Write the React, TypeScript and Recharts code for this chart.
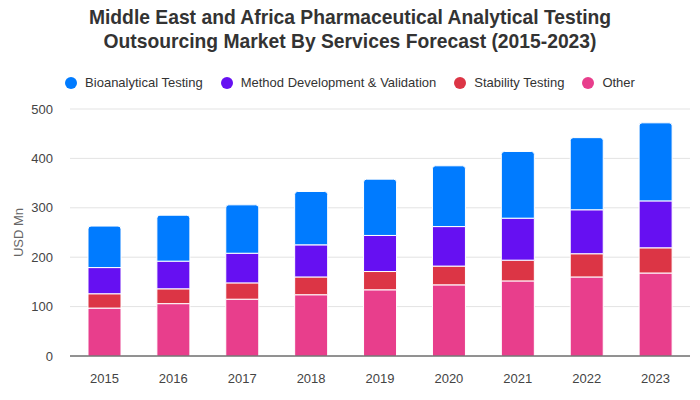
import { Bar, BarChart, CartesianGrid, Legend, XAxis, YAxis } from 'recharts';

const years = ['2015', '2016', '2017', '2018', '2019', '2020', '2021', '2022', '2023'];
const other = [97, 106, 115, 124, 134, 144, 152, 160, 168];
const stability = [29, 30, 33, 36, 37, 38, 42, 47, 51];
const methodDev = [53, 56, 60, 65, 73, 80, 85, 89, 95];
const bioanalytical = [84, 93, 98, 108, 114, 123, 135, 146, 158];
const yTicks = [0, 100, 200, 300, 400, 500];

const legendOrder = [
  { name: 'Bioanalytical Testing', color: '#007bff' },
  { name: 'Method Development & Validation', color: '#6610f2' },
  { name: 'Stability Testing', color: '#dc3545' },
  { name: 'Other', color: '#e83e8c' },
];

const data = years.map((year, i) => ({
  year,
  other: other[i],
  stability: stability[i],
  methodDev: methodDev[i],
  bioanalytical: bioanalytical[i],
}));

const font = '"Liberation Sans", Arial, sans-serif';

function LegendRow() {
  return (
    <div style={{ display: 'flex', justifyContent: 'center', gap: 18, fontFamily: font, fontSize: 13, color: '#333', lineHeight: '16px' }}>
      {legendOrder.map((d) => (
        <div key={d.name} style={{ display: 'flex', alignItems: 'center' }}>
          <span style={{ width: 12, height: 12, borderRadius: 6, background: d.color, marginRight: 8, display: 'inline-block' }} />
          {d.name}
        </div>
      ))}
    </div>
  );
}

export default function App() {
  return (
    <div style={{ position: 'absolute', left: 0, top: 0, width: 700, height: 400, background: '#fff' }}>
      <div
        style={{
          position: 'absolute',
          top: 6,
          left: 0,
          width: 700,
          textAlign: 'center',
          fontFamily: font,
          fontWeight: 'bold',
          fontSize: 19.3,
          lineHeight: '24px',
          color: '#333',
        }}
      >
        Middle East and Africa Pharmaceutical Analytical Testing
        <br />
        Outsourcing Market By Services Forecast (2015-2023)
      </div>
      <BarChart width={700} height={400} data={data} margin={{ top: 93, right: 10, bottom: 14, left: 0 }}>
        <CartesianGrid vertical={false} stroke="#e3e3e3" />
        <XAxis
          dataKey="year"
          height={30}
          tickLine={false}
          tickMargin={12}
          stroke="#333"
          tick={{ fontSize: 13, fill: '#444', fontFamily: font }}
        />
        <YAxis
          width={70}
          domain={[0, 500]}
          ticks={yTicks}
          axisLine={false}
          tickLine={false}
          tickMargin={11}
          tick={{ fontSize: 13, fill: '#444', fontFamily: font }}
          label={{ value: 'USD Mn', angle: -90, position: 'center', dx: -17, fontSize: 13, fill: '#666', fontFamily: font }}
        />
        <Legend verticalAlign="top" wrapperStyle={{ top: 75, left: 0, width: 700 }} content={() => <LegendRow />} />
        <Bar dataKey="other" name="Other" stackId="a" fill="#e83e8c" stroke="#fff" strokeWidth={1} barSize={33} isAnimationActive={false} />
        <Bar dataKey="stability" name="Stability Testing" stackId="a" fill="#dc3545" stroke="#fff" strokeWidth={1} barSize={33} isAnimationActive={false} />
        <Bar dataKey="methodDev" name="Method Development & Validation" stackId="a" fill="#6610f2" stroke="#fff" strokeWidth={1} barSize={33} isAnimationActive={false} />
        <Bar dataKey="bioanalytical" name="Bioanalytical Testing" stackId="a" fill="#007bff" stroke="#fff" strokeWidth={1} barSize={33} radius={[3, 3, 0, 0]} isAnimationActive={false} />
      </BarChart>
    </div>
  );
}
